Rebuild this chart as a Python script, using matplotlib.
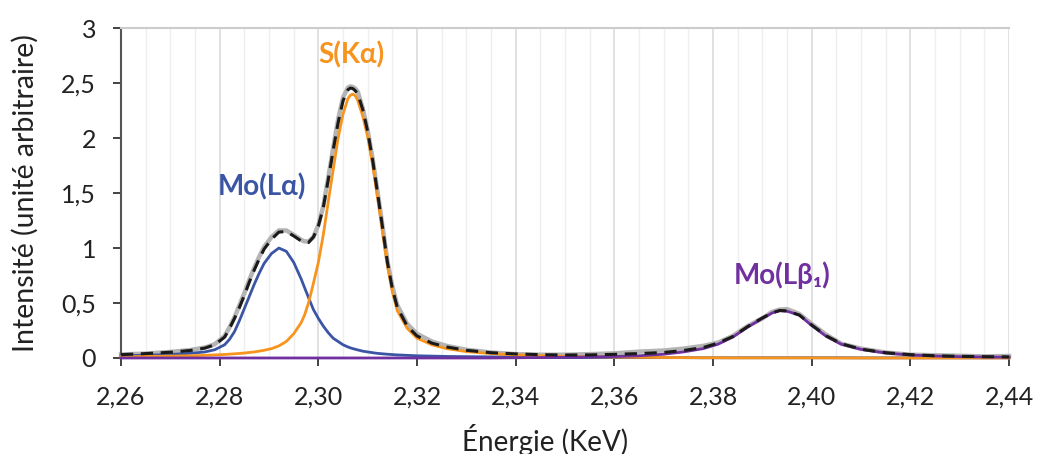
import numpy as np
import matplotlib.pyplot as plt
from matplotlib.ticker import FuncFormatter, MultipleLocator

# energie (keV) et intensites
energy = [2.260, 2.265, 2.270, 2.274, 2.277, 2.279, 2.281, 2.282, 2.283, 2.284,
          2.285, 2.286, 2.287, 2.288, 2.289, 2.2905, 2.292, 2.2935, 2.295, 2.2965,
          2.2972, 2.298, 2.299, 2.300, 2.301, 2.302, 2.303, 2.304, 2.305, 2.306,
          2.3065, 2.307, 2.3075, 2.308, 2.309, 2.310, 2.311, 2.312, 2.313, 2.314,
          2.315, 2.316, 2.318, 2.320, 2.323, 2.326, 2.330, 2.335, 2.340, 2.345,
          2.350, 2.355, 2.360, 2.365, 2.370, 2.374, 2.378, 2.381, 2.384, 2.387,
          2.390, 2.392, 2.3935, 2.395, 2.3975, 2.400, 2.403, 2.406, 2.410, 2.415,
          2.420, 2.425, 2.430, 2.435, 2.440]

mo_la = [0.020, 0.025, 0.032, 0.042, 0.055, 0.075, 0.12, 0.17, 0.24, 0.34,
         0.45, 0.56, 0.67, 0.77, 0.86, 0.95, 1.00, 0.97, 0.87, 0.72,
         0.64, 0.55, 0.44, 0.36, 0.29, 0.23, 0.18, 0.15, 0.12, 0.10,
         0.092, 0.085, 0.079, 0.073, 0.062, 0.055, 0.048, 0.042, 0.038, 0.034,
         0.031, 0.028, 0.024, 0.020, 0.017, 0.014, 0.012, 0.010, 0.008, 0.006,
         0.005, 0.004, 0.004, 0.003, 0.003, 0.003, 0.002, 0.002, 0.002, 0.002,
         0.002, 0.002, 0.002, 0.002, 0.002, 0.002, 0.002, 0.002, 0.001, 0.001,
         0.001, 0.001, 0.001, 0.001, 0.001]

s_ka = [0.012, 0.014, 0.017, 0.020, 0.024, 0.028, 0.032, 0.035, 0.038, 0.041,
        0.045, 0.050, 0.055, 0.062, 0.070, 0.085, 0.11, 0.15, 0.22, 0.32,
        0.39, 0.50, 0.68, 0.87, 1.12, 1.42, 1.71, 2.00, 2.22, 2.36,
        2.39, 2.40, 2.385, 2.34, 2.20, 2.01, 1.76, 1.46, 1.15, 0.84,
        0.60, 0.43, 0.27, 0.18, 0.12, 0.085, 0.058, 0.040, 0.028, 0.020,
        0.015, 0.011, 0.008, 0.006, 0.004, 0.003, 0.002, 0.002, 0.001, 0.001,
        0.001, 0.001, 0.001, 0.001, 0.001, 0.001, 0.001, 0.0, 0.0, 0.0,
        0.0, 0.0, 0.0, 0.0, 0.0]

mo_lb1 = [0.0, 0.0, 0.0, 0.0, 0.0, 0.0, 0.0, 0.0, 0.0, 0.0,
          0.0, 0.0, 0.0, 0.0, 0.0, 0.0, 0.0, 0.0, 0.0, 0.0,
          0.0, 0.0, 0.0, 0.0, 0.0, 0.0, 0.0, 0.0, 0.0, 0.0,
          0.0, 0.0, 0.0, 0.0, 0.0, 0.0, 0.0, 0.0, 0.0, 0.0,
          0.0, 0.0, 0.0, 0.0, 0.0, 0.0, 0.0, 0.0, 0.002, 0.004,
          0.006, 0.009, 0.013, 0.020, 0.034, 0.055, 0.085, 0.125, 0.19, 0.28,
          0.36, 0.41, 0.43, 0.425, 0.39, 0.295, 0.195, 0.125, 0.078, 0.045,
          0.027, 0.018, 0.012, 0.009, 0.007]

fit = [0.030, 0.040, 0.052, 0.068, 0.090, 0.12, 0.19, 0.27, 0.36, 0.46,
       0.57, 0.69, 0.80, 0.90, 0.99, 1.08, 1.145, 1.15, 1.11, 1.065,
       1.05, 1.05, 1.10, 1.20, 1.37, 1.62, 1.89, 2.14, 2.34, 2.44,
       2.455, 2.45, 2.43, 2.40, 2.26, 2.06, 1.80, 1.50, 1.19, 0.87,
       0.63, 0.46, 0.29, 0.20, 0.135, 0.10, 0.07, 0.048, 0.037, 0.030,
       0.027, 0.028, 0.033, 0.040, 0.050, 0.068, 0.095, 0.135, 0.195, 0.285,
       0.365, 0.41, 0.432, 0.428, 0.39, 0.30, 0.20, 0.13, 0.08, 0.048,
       0.03, 0.02, 0.015, 0.012, 0.01]

mesure = [0.032, 0.040, 0.055, 0.072, 0.095, 0.125, 0.20, 0.28, 0.37, 0.48,
          0.59, 0.71, 0.82, 0.92, 1.01, 1.10, 1.16, 1.16, 1.12, 1.075,
          1.06, 1.06, 1.10, 1.21, 1.38, 1.64, 1.91, 2.17, 2.37, 2.46,
          2.47, 2.465, 2.45, 2.42, 2.27, 2.07, 1.81, 1.51, 1.20, 0.88,
          0.65, 0.48, 0.31, 0.22, 0.15, 0.11, 0.075, 0.05, 0.035, 0.030,
          0.03, 0.035, 0.042, 0.058, 0.068, 0.085, 0.11, 0.14, 0.20, 0.29,
          0.36, 0.42, 0.44, 0.445, 0.40, 0.31, 0.21, 0.13, 0.085, 0.05,
          0.03, 0.025, 0.02, 0.015, 0.018]

x_ticks = [2.26, 2.28, 2.30, 2.32, 2.34, 2.36, 2.38, 2.40, 2.42, 2.44]
y_ticks = [0, 0.5, 1, 1.5, 2, 2.5, 3]

plt.rcParams['font.family'] = ['Lato', 'DejaVu Sans']

fig = plt.figure(figsize=(10.38, 4.54), dpi=100)
ax = fig.add_axes([0.1166, 0.2115, 0.8555, 0.7265])

blue = '#3b55a5'
orange = '#f7941d'
purple = '#7030a0'

kw = dict(solid_joinstyle='round', clip_on=False)
ax.plot(energy, mesure, color='#b4b4b4', lw=3.2, zorder=2, **kw)
ax.plot(energy, mo_la, color=blue, lw=2.0, zorder=3, **kw)
ax.plot(energy, s_ka, color=orange, lw=2.0, zorder=3, **kw)
ax.plot(energy, mo_lb1, color=purple, lw=2.0, zorder=4, **kw)
ax.plot(energy, fit, color='#1a1a1a', lw=2.2, ls=(0, (4, 2.5)), zorder=5,
        dash_joinstyle='round', clip_on=False)

ax.set_xlim(2.26, 2.44)
ax.set_ylim(0, 3)
ax.set_xticks(x_ticks)
ax.set_yticks(y_ticks)

ax.xaxis.set_major_formatter(FuncFormatter(lambda v, p: ('%.2f' % v).replace('.', ',')))
ax.yaxis.set_major_formatter(FuncFormatter(lambda v, p: ('%g' % v).replace('.', ',')))

ax.xaxis.set_minor_locator(MultipleLocator(0.005))
ax.grid(axis='x', which='minor', color='#efefef', lw=1.0, zorder=0)
ax.grid(axis='x', which='major', color='#dcdcdc', lw=1.2, zorder=0)
ax.tick_params(axis='x', which='minor', length=0)
ax.tick_params(axis='both', which='major', labelsize=18, colors='#222222',
               direction='out', length=6, width=1.2)
ax.tick_params(axis='x', pad=14)
ax.tick_params(axis='y', pad=12)

ax.spines['right'].set_visible(False)
ax.spines['top'].set_color('#cccccc')
ax.spines['top'].set_linewidth(1.5)
ax.spines['left'].set_color('#555555')
ax.spines['left'].set_linewidth(1.5)
ax.spines['bottom'].set_color('#555555')
ax.spines['bottom'].set_linewidth(1.2)

ax.set_xlabel('Énergie (KeV)', fontsize=20, color='#222222')
ax.xaxis.set_label_coords(0.4775, -0.20)
ax.set_ylabel('Intensité (unité arbitraire)', fontsize=20.5, color='#222222')
ax.yaxis.set_label_coords(-0.093, 0.5)

ax.text(2.2886, 1.555, 'Mo(Lα)', color=blue, fontsize=20, fontweight='bold',
        ha='center', va='center')
ax.text(2.3066, 2.755, 'S(Kα)', color=orange, fontsize=20, fontweight='bold',
        ha='center', va='center')
ax.text(2.394, 0.755, 'Mo(Lβ₁)', color=purple, fontsize=20, fontweight='bold',
        ha='center', va='center')

fig.savefig('out.png', dpi=100)
